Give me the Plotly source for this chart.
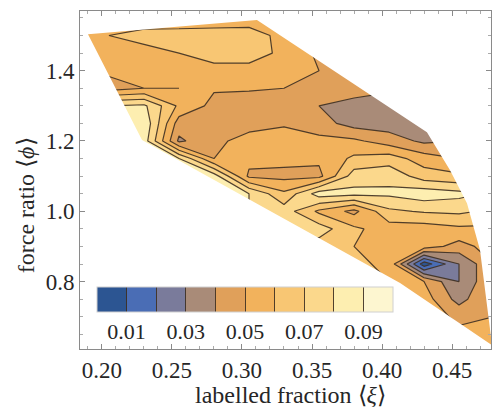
import plotly.graph_objects as go

# Sampling grid: labelled fraction (xi) and force ratio (phi)
xi_grid = [0.180, 0.205, 0.230, 0.255, 0.280, 0.305, 0.330,
           0.355, 0.380, 0.405, 0.430, 0.455, 0.480]
phi_grid = [0.60, 0.65, 0.70, 0.75, 0.80, 0.85, 0.90, 0.95, 1.00, 1.05,
            1.10, 1.15, 1.20, 1.25, 1.30, 1.35, 1.40, 1.45, 1.50, 1.55]

N = None
# Measured quantity on the grid, one row per phi value (None = not sampled)
z_rows = [
    [N, N, N, N, N, N, N, N, N, N, N, 0.052, 0.055],                                   # 0.60
    [N, N, N, N, N, N, N, N, N, N, N, 0.052, 0.052],                                   # 0.65
    [N, N, N, N, N, N, N, N, N, N, 0.055, 0.048, 0.050],                               # 0.70
    [N, N, N, N, N, N, N, N, N, 0.058, 0.055, 0.036, 0.052],                           # 0.75
    [N, N, N, N, N, N, N, N, N, 0.060, 0.050, 0.030, 0.050],                           # 0.80
    [N, N, N, N, N, N, N, N, 0.062, 0.058, 0.004, 0.030, 0.050],                       # 0.85
    [N, N, N, N, N, N, N, 0.065, 0.060, 0.058, 0.055, 0.046, 0.055],                   # 0.90
    [N, N, N, N, N, N, 0.075, 0.075, 0.062, 0.055, 0.055, 0.058, 0.058],               # 0.95
    [N, N, N, N, N, 0.080, 0.075, 0.058, 0.047, 0.068, 0.071, 0.072, 0.068],           # 1.00
    [N, N, N, N, 0.085, 0.080, 0.062, 0.085, 0.083, 0.082, 0.086, 0.083, 0.078],       # 1.05
    [N, N, N, 0.085, 0.085, 0.048, 0.047, 0.047, 0.075, 0.077, 0.065, 0.062, N],       # 1.10
    [N, N, 0.085, 0.080, 0.050, 0.053, 0.053, 0.052, 0.062, 0.065, 0.055, 0.050, N],   # 1.15
    [N, 0.080, 0.085, 0.038, 0.048, 0.053, 0.054, 0.053, 0.052, 0.045, 0.038, 0.040, N],  # 1.20
    [N, 0.088, 0.088, 0.045, 0.046, 0.047, 0.049, 0.044, 0.036, 0.035, 0.036, N, N],   # 1.25
    [N, 0.080, 0.082, 0.058, 0.047, 0.045, 0.043, 0.040, 0.036, 0.034, N, N, N],       # 1.30
    [N, 0.046, 0.050, 0.050, 0.051, 0.051, 0.050, 0.047, 0.045, 0.042, N, N, N],       # 1.35
    [0.052, 0.052, 0.055, 0.055, 0.057, 0.057, 0.054, 0.050, 0.046, N, N, N, N],       # 1.40
    [0.054, 0.055, 0.056, 0.060, 0.064, 0.064, 0.058, 0.048, N, N, N, N, N],           # 1.45
    [0.054, 0.060, 0.064, 0.065, 0.066, 0.066, 0.056, N, N, N, N, N, N],               # 1.50
    [N, 0.053, 0.053, 0.052, 0.052, 0.053, 0.052, N, N, N, N, N, N],                   # 1.55
]

# Boundary of the sampled region (convex hull of the measurements)
hull_xi = [0.190, 0.3107, 0.4321, 0.4486, 0.4607, 0.4700, 0.4786, 0.4129, 0.2286]
hull_phi = [1.504, 1.544, 1.225, 1.117, 1.023, 0.890, 0.619, 0.796, 1.203]

# Contour levels and band colours (0.00-0.01, 0.01-0.02, ..., 0.09-0.10)
levels = [0.01, 0.02, 0.03, 0.04, 0.05, 0.06, 0.07, 0.08, 0.09]
band_colors = ["#2c5592", "#4a6db5", "#7a7b9b", "#a98b78", "#e0a05a",
               "#f2b25c", "#f8c673", "#fbd88c", "#fdeeb0", "#fdf6d0"]
legend_range = [0.0, 0.10]
cbar_labels = {0.01: "0.01", 0.03: "0.03", 0.05: "0.05", 0.07: "0.07", 0.09: "0.09"}

x_range = [0.18429, 0.47786]
y_range = [0.6082, 1.5698]

serif = "Liberation Serif, Times New Roman, serif"
text_color = "#262626"
line_color = "rgba(62,48,34,0.9)"
nb = len(band_colors)

# Contour fill: band k is coloured from the colour scale sampled at k/(nb-1)
contour_scale = [[k / (nb - 1), c] for k, c in enumerate(band_colors)]
# Stepped scale for the legend bar over [0, 0.1]
step_scale = []
for k, c in enumerate(band_colors):
    step_scale += [[k / nb, c], [(k + 1) / nb, c]]

fig = go.Figure()

fig.add_trace(go.Contour(
    x=xi_grid, y=phi_grid, z=z_rows,
    connectgaps=True,
    autocontour=False,
    contours=dict(start=levels[0], end=levels[-1], size=levels[1] - levels[0],
                  coloring="fill"),
    colorscale=contour_scale,
    line=dict(color=line_color, width=1.2, smoothing=0),
    hoverinfo="skip",
    showscale=False,
))

# White mask outside the sampled region: outer frame (clockwise) with the hull cut out
pad = 0.05
ox = [x_range[0] - pad, x_range[0] - pad, x_range[1] + pad, x_range[1] + pad, x_range[0] - pad]
oy = [y_range[0] - pad, y_range[1] + pad, y_range[1] + pad, y_range[0] - pad, y_range[0] - pad]
hx = list(reversed(hull_xi))
hy = list(reversed(hull_phi))
mask_x = ox + [hx[0]] + hx[1:] + [hx[0], ox[0]]
mask_y = oy + [hy[0]] + hy[1:] + [hy[0], oy[0]]
fig.add_trace(go.Scatter(
    x=mask_x, y=mask_y, mode="lines", fill="toself",
    fillcolor="white", line=dict(width=0, color="white"),
    hoverinfo="skip", showlegend=False,
))

# Legend bar: level lines are drawn as full-height inside ticks
fig.add_trace(go.Scatter(
    x=[None], y=[None], mode="markers", hoverinfo="skip", showlegend=False,
    marker=dict(
        color=[legend_range[0]], cmin=legend_range[0], cmax=legend_range[1],
        colorscale=step_scale, showscale=True,
        colorbar=dict(
            orientation="h",
            lenmode="pixels", len=296,
            thicknessmode="pixels", thickness=25,
            x=0.4015, xanchor="center",
            y=0.1834, yanchor="top",
            xpad=0, ypad=0,
            outlinewidth=1, outlinecolor="#d0d0d0",
            tickmode="array",
            tickvals=levels,
            ticktext=[cbar_labels.get(round(v, 2), "") for v in levels],
            ticks="inside", ticklen=25, tickwidth=1.2, tickcolor=line_color,
            tickfont=dict(family=serif, size=22, color=text_color),
        ),
    ),
))

axis_common = dict(
    showgrid=False, zeroline=False,
    showline=True, linecolor="#8a8a8a", linewidth=1, mirror="ticks",
    ticks="inside", ticklen=5, tickcolor="#8a8a8a", tickwidth=1,
    tickfont=dict(family=serif, size=23, color=text_color),
)

fig.update_layout(
    width=492, height=407,
    margin=dict(l=80, r=1, t=11, b=58),
    paper_bgcolor="white", plot_bgcolor="white",
    showlegend=False,
    xaxis=dict(axis_common, range=x_range, tickvals=[0.20, 0.25, 0.30, 0.35, 0.40, 0.45],
               ticktext=["0.20", "0.25", "0.30", "0.35", "0.40", "0.45"],
               minor=dict(dtick=0.01, ticks="inside", ticklen=3, tickcolor="#aaaaaa")),
    yaxis=dict(axis_common, range=y_range, tickvals=[0.8, 1.0, 1.2, 1.4],
               ticktext=["0.8", "1.0", "1.2", "1.4"],
               minor=dict(dtick=0.05, ticks="inside", ticklen=3, tickcolor="#aaaaaa")),
    annotations=[
        dict(text="labelled fraction ⟨<i>ξ</i>⟩", xref="paper", yref="paper",
             x=0.512, y=-0.136, xanchor="center", yanchor="middle", showarrow=False,
             font=dict(family=serif, size=24, color=text_color)),
        dict(text="force ratio ⟨<i>ϕ</i>⟩", xref="paper", yref="paper",
             x=-0.131, y=0.426, xanchor="center", yanchor="middle", showarrow=False,
             textangle=-90, font=dict(family=serif, size=24, color=text_color)),
    ],
)

fig.write_html("out.html")
